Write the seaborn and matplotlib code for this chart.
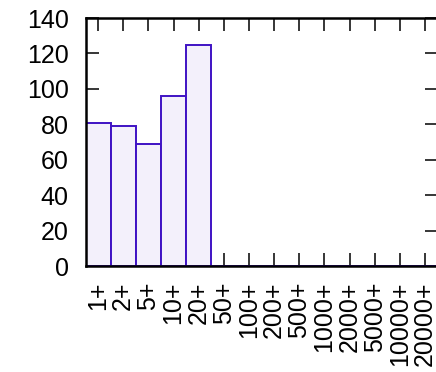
import matplotlib
matplotlib.use("Agg")
import matplotlib.pyplot as plt
import seaborn as sns
import pandas as pd

categories = ["1+", "2+", "5+", "10+", "20+", "50+", "100+", "200+", "500+",
              "1000+", "2000+", "5000+", "10000+", "20000+"]
counts = [81, 79, 69, 96, 125, 0, 0, 0, 0, 0, 0, 0, 0, 0]
y_ticks = [0, 20, 40, 60, 80, 100, 120, 140]

sns.set_style("white")
plt.rcParams['font.family'] = ['Liberation Sans', 'DejaVu Sans']

df = pd.DataFrame({"cat": categories, "count": counts})

fig = plt.figure(figsize=(4.36, 3.72), dpi=100)
ax = fig.add_axes([85.5 / 436, 1 - 266 / 372, (437.5 - 85.5) / 436, (266 - 18) / 372])

sns.barplot(data=df, x="cat", y="count", order=categories, width=1.0,
            color="#f3f0fb", edgecolor="#3f12c4", linewidth=1.4, saturation=1,
            ax=ax)

ax.set_xlim(-0.5, len(categories) - 0.5)
ax.set_ylim(0, 140)
ax.set_yticks(y_ticks)
ax.set_xlabel("")
ax.set_ylabel("")
ax.set_axisbelow(True)
ax.tick_params(axis="both", direction="in", length=9.5, width=1.1, color="black",
               top=True, right=True, bottom=True, left=True,
               labelsize=18, labelcolor="black")
ax.tick_params(axis="y", pad=12)
ax.tick_params(axis="x", pad=11, labelrotation=90)
for s in ax.spines.values():
    s.set_visible(True)
    s.set_color("black")
    s.set_linewidth(1.8)

fig.savefig("out.png", dpi=100)
